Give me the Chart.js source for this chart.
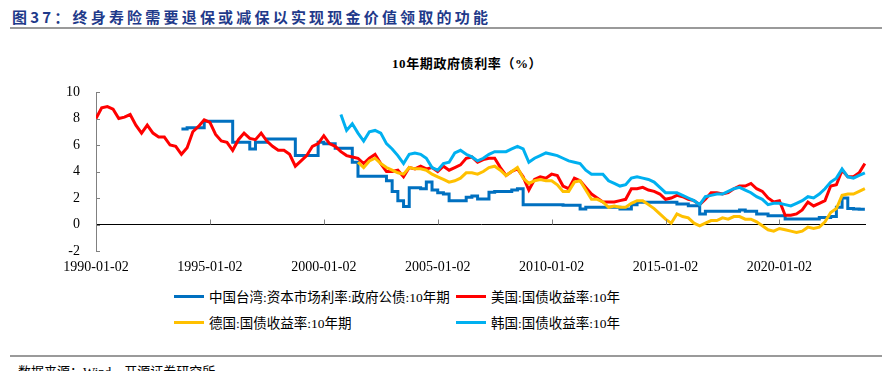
<!DOCTYPE html>
<html>
<head>
<meta charset="utf-8">
<script src="https://cdn.jsdelivr.net/npm/chart.js@4.4.0/dist/chart.umd.min.js"></script>
<style>
  body { margin: 0; width: 896px; height: 371px; background: #fff; position: relative; overflow: hidden; }
  #title { position: absolute; left: 12px; top: 6px; font: bold 15px "Noto Sans CJK SC", sans-serif; color: #1f3a8a; letter-spacing: 3.2px; white-space: nowrap; }
  #titleLine { position: absolute; left: 10px; right: 14px; top: 27px; height: 2px; background: #9a9a9a; }
  #chartTitle { position: absolute; left: 392px; top: 53px; font: bold 13px "Liberation Serif", "Noto Sans CJK SC", serif; color: #000; white-space: nowrap; letter-spacing: 0.6px; }
  #chart { position: absolute; left: 0; top: 0; }
  .lg { position: absolute; font: 13.5px "Liberation Serif", "Noto Sans CJK SC", serif; color: #000; white-space: nowrap; line-height: 16px; }
  .sw { display: inline-block; width: 30px; height: 3px; vertical-align: middle; margin-right: 5px; position: relative; top: -2px; }
  #footLine { position: absolute; left: 10px; right: 14px; top: 355px; height: 2px; background: #9a9a9a; }
  #foot { position: absolute; left: 18px; top: 361px; font: 13px "Liberation Serif", "Noto Sans CJK SC", serif; color: #000; white-space: nowrap; }
</style>
</head>
<body>
<div id="title">图37：终身寿险需要退保或减保以实现现金价值领取的功能</div>
<div id="titleLine"></div>
<div id="chartTitle">10年期政府债利率（%）</div>
<canvas id="chart" width="896" height="285"></canvas>
<div class="lg" style="left:174px;top:290px"><span class="sw" style="background:#0070c0"></span>中国台湾:资本市场利率:政府公债:10年期</div>
<div class="lg" style="left:456px;top:290px"><span class="sw" style="background:#ff0000"></span>美国:国债收益率:10年</div>
<div class="lg" style="left:174px;top:316px"><span class="sw" style="background:#ffc000"></span>德国:国债收益率:10年期</div>
<div class="lg" style="left:456px;top:316px"><span class="sw" style="background:#00b0f0"></span>韩国:国债收益率:10年</div>
<div id="footLine"></div>
<div id="foot">数据来源：Wind，开源证券研究所</div>
<script>
// quarterly readings, one value per quarter from each series' start
const step = 0.25;

const twStart = 1993.75;
const twYield = [
  7.2, 7.3, 7.3, 7.3, 7.8, 7.8, 7.8, 7.8, 7.8, 6.2, 6.2, 6.2, 5.7,
  6.2, 6.2, 6.45, 6.45, 6.45, 6.45, 6.45, 5.2, 5.2, 5.2, 5.2,
  6.2, 6.1, 6.1, 5.75, 5.75, 5.75, 4.7, 3.65, 3.65, 3.65, 3.65, 3.65,
  3.3, 2.5, 1.8, 1.35, 2.77, 2.77, 2.7, 3.2, 2.6,
  2.4, 2.3, 1.8, 1.8, 1.8, 2.05, 2.15, 1.93,
  1.93, 2.43, 2.5, 2.5, 2.5, 2.6, 2.69, 1.5,
  1.5, 1.5, 1.5, 1.5, 1.5, 1.5, 1.45, 1.45,
  1.45, 1.17, 1.3, 1.3, 1.3, 1.3, 1.3, 1.3,
  1.17, 1.17, 1.5, 1.67, 1.67, 1.67, 1.67, 1.67,
  1.67, 1.67, 1.55, 1.55, 1.42, 1.42, 0.79, 1.0,
  1.0, 1.0, 1.0, 1.0, 1.0, 1.1, 1.0, 1.0,
  0.8, 0.8, 0.66, 0.66, 0.66, 0.41, 0.41, 0.41,
  0.41, 0.41, 0.41, 0.53, 0.53, 0.6, 1.3, 2.0,
  1.2, 1.17, 1.15, 1.15
];

const usStart = 1990.0;
const usYield = [
  8.0, 8.8, 8.9, 8.7, 8.0, 8.1, 8.3, 7.5,
  6.9, 7.5, 6.9, 6.6, 6.6, 6.0, 5.9, 5.3,
  5.8, 7.0, 7.4, 7.9, 7.7, 6.8, 6.3, 6.2,
  5.6, 6.4, 6.9, 6.5, 6.4, 6.9, 6.3, 5.9,
  5.6, 5.6, 5.3, 4.4, 4.8, 5.2, 5.9, 6.1,
  6.7, 6.1, 5.9, 5.5, 5.2, 5.1, 5.0, 4.6,
  5.0, 5.3, 4.6, 4.0, 4.0, 4.1, 3.6, 4.3,
  4.2, 4.4, 4.2, 4.3, 4.0, 4.4, 4.1, 4.3,
  4.5, 5.0, 5.1, 4.7, 4.9, 5.0, 5.0, 4.3,
  3.7, 4.0, 4.2, 3.6, 2.6, 3.4, 3.6, 3.5,
  3.8, 3.7, 2.9, 2.7, 3.5, 3.3, 2.8, 2.3,
  2.0, 1.7, 1.7, 1.7, 1.8, 1.9, 2.7, 2.7,
  2.8, 2.6, 2.5, 2.3, 1.9, 2.0, 2.2, 2.1,
  1.9, 1.8, 1.5, 1.9, 2.4, 2.4, 2.3, 2.4,
  2.7, 2.9, 2.9, 3.1, 2.7, 2.5, 2.0, 1.7,
  1.8, 0.7, 0.7, 0.8, 1.1, 1.7, 1.4, 1.6,
  1.8, 2.9, 3.0, 4.1, 3.6, 3.6, 3.9, 4.6
];

const deStart = 2001.5;
const deYield = [
  4.7, 4.3, 4.8, 5.0, 4.6, 4.3,
  4.1, 3.9, 3.8, 4.3, 4.2, 4.2, 4.1, 3.8,
  3.6, 3.4, 3.2, 3.3, 3.5, 3.9, 3.9, 3.8,
  4.0, 4.3, 4.4, 4.1, 3.7, 4.0, 4.3, 3.5,
  3.1, 3.3, 3.4, 3.3, 3.3, 3.0, 2.5, 2.5,
  3.2, 3.3, 2.6, 1.9, 1.9, 1.7, 1.3, 1.4,
  1.3, 1.3, 1.6, 1.8, 1.8, 1.5, 1.2, 0.8,
  0.4, 0.1, 0.8, 0.6, 0.5, 0.1, -0.1, 0.1,
  0.3, 0.3, 0.5, 0.4, 0.6, 0.6, 0.4, 0.4,
  0.2, -0.1, -0.4, -0.5, -0.3, -0.4, -0.5, -0.6,
  -0.5, -0.2, -0.3, -0.2, 0.2, 0.9, 1.2, 2.2,
  2.3, 2.3, 2.5, 2.7
];

const krStart = 2000.75;
const krYield = [
  8.3, 7.1, 7.6, 6.9, 6.3,
  7.0, 7.1, 6.9, 6.1, 5.7, 5.2, 4.6, 5.3,
  5.4, 5.3, 5.0, 4.3, 4.1, 4.6, 4.7, 5.4,
  5.6, 5.3, 5.1, 4.8, 5.0, 5.3, 5.5, 5.5,
  5.5, 5.7, 5.9, 5.7, 4.7, 5.0, 5.2, 5.4,
  5.3, 5.2, 5.0, 4.8, 4.7, 4.6, 4.1, 3.8,
  3.8, 3.8, 3.3, 3.1, 2.9, 3.0, 3.5, 3.6,
  3.5, 3.4, 3.2, 2.8, 2.4, 2.4, 2.4, 2.2,
  2.0, 1.8, 1.5, 2.1, 2.2, 2.3, 2.3, 2.5,
  2.7, 2.8, 2.6, 2.4, 2.1, 1.9, 1.5, 1.6,
  1.6, 1.5, 1.4, 1.6, 1.8, 2.1, 2.0, 2.3,
  2.7, 3.2, 3.5, 4.2, 3.6, 3.5, 3.7, 3.9
];

const tickYears = [1990, 1995, 2000, 2005, 2010, 2015, 2020];
const tickLabels = ['1990-01-02', '1995-01-02', '2000-01-02', '2005-01-02', '2010-01-02', '2015-01-02', '2020-01-02'];
const yTicks = [-2, 0, 2, 4, 6, 8, 10];

const toPoints = (start, vals) => vals.map((v, i) => ({ x: start + i * step, y: v }));

// small inward tick marks, on the zero line for x and on the axis for y
const tickMarks = {
  id: 'tickMarks',
  afterDatasetsDraw(chart) {
    const { ctx, scales: { x, y } } = chart;
    const y0 = y.getPixelForValue(0);
    ctx.save();
    ctx.strokeStyle = '#808080';
    ctx.lineWidth = 1;
    ctx.beginPath();
    tickYears.slice(1).forEach(t => {
      const px = Math.round(x.getPixelForValue(t)) + 0.5;
      ctx.moveTo(px, y0);
      ctx.lineTo(px, y0 - 5);
    });
    yTicks.forEach(t => {
      const py = Math.round(y.getPixelForValue(t)) + 0.5;
      ctx.moveTo(x.left, py);
      ctx.lineTo(x.left + 4, py);
    });
    ctx.stroke();
    ctx.restore();
  }
};

const lineSet = (label, data, color, order, stepped) => ({
  label, data, borderColor: color, backgroundColor: color,
  borderWidth: 3, pointRadius: 0, tension: 0, order, stepped: stepped || false
});

new Chart(document.getElementById('chart'), {
  type: 'line',
  data: {
    datasets: [
      lineSet('中国台湾:资本市场利率:政府公债:10年期', toPoints(twStart, twYield), '#0070c0', 3, 'before'),
      lineSet('美国:国债收益率:10年', toPoints(usStart, usYield), '#ff0000', 2),
      lineSet('德国:国债收益率:10年期', toPoints(deStart, deYield), '#ffc000', 1),
      lineSet('韩国:国债收益率:10年', toPoints(krStart, krYield), '#00b0f0', 0)
    ]
  },
  options: {
    responsive: false,
    animation: false,
    devicePixelRatio: 1,
    layout: { padding: { top: 92, right: 30, left: 0, bottom: 0 } },
    plugins: { legend: { display: false }, tooltip: { enabled: false } },
    scales: {
      x: {
        type: 'linear', min: 1990, max: 2023.8,
        afterBuildTicks: s => { s.ticks = tickYears.map(v => ({ value: v })); },
        afterFit: s => { s.height = 285 - 251; },
        ticks: {
          autoSkip: false, maxRotation: 0, padding: 8, color: '#000',
          font: { family: 'Liberation Serif', size: 14 },
          callback: v => tickLabels[tickYears.indexOf(v)]
        },
        grid: { display: false, drawTicks: false },
        border: { display: false }
      },
      y: {
        min: -2, max: 10,
        afterBuildTicks: s => { s.ticks = yTicks.map(v => ({ value: v })); },
        afterFit: s => { s.width = 96; },
        ticks: { padding: 16, color: '#000', font: { family: 'Liberation Serif', size: 14 } },
        grid: { drawTicks: false, color: c => (c.tick && c.tick.value === 0 ? '#000' : 'rgba(0,0,0,0)'), lineWidth: 1 },
        border: { display: true, color: '#808080', width: 1 }
      }
    }
  },
  plugins: [tickMarks]
});
</script>
</body>
</html>
